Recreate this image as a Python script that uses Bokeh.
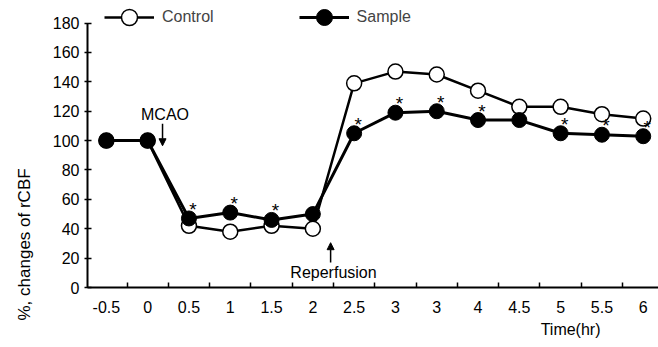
import math
from bokeh.plotting import figure
from bokeh.models import (Range1d, FixedTicker, Legend, LegendItem, Label, Arrow,
                          NormalHead, ColumnDataSource, Title)
from bokeh.core.properties import value
from bokeh.embed import file_html
from bokeh.resources import INLINE

# ---- data ----
time_labels = ["-0.5", "0", "0.5", "1", "1.5", "2", "2.5", "3", "3", "4", "4.5", "5", "5.5", "6"]
control = [100, 100, 42, 38, 42, 40, 139, 147, 145, 134, 123, 123, 118, 115]
sample = [100, 100, 47, 51, 46, 50, 105, 119, 120, 114, 114, 105, 104, 103]
significant = [0, 0, 1, 1, 1, 0, 1, 1, 1, 1, 0, 1, 1, 1]
y_ticks = [0, 20, 40, 60, 80, 100, 120, 140, 160, 180]

FONT = "Liberation Sans"
pos = list(range(len(time_labels)))

p = figure(width=658, height=346, output_backend="svg", toolbar_location=None,
           x_range=Range1d(-0.457, 13.37), y_range=Range1d(0, 195.4),
           min_border_left=83, min_border_right=0, min_border_top=0, min_border_bottom=59)
p.outline_line_color = None
p.grid.grid_line_color = None
p.background_fill_color = "white"

src = ColumnDataSource(dict(x=pos, control=control, sample=sample))

cl = p.line("x", "control", source=src, line_color="black", line_width=2.5)
cs = p.scatter("x", "control", source=src, size=15, fill_color="white",
               line_color="black", line_width=1.5)
sl = p.line("x", "sample", source=src, line_color="black", line_width=3)
ss = p.scatter("x", "sample", source=src, size=15, fill_color="black", line_color="black")

# significance asterisks
sig_src = ColumnDataSource(dict(
    x=[x for x, s in zip(pos, significant) if s],
    y=[v for v, s in zip(sample, significant) if s]))
p.text("x", "y", text=value("*"), source=sig_src, x_offset=4, y_offset=-9,
       text_font=value(FONT), text_font_size="19px", text_align="center",
       text_baseline="middle", text_color="black")

# axes
xa = p.xaxis[0]
xa.ticker = FixedTicker(ticks=pos, minor_ticks=[i + 0.5 for i in range(13)])
xa.major_label_overrides = {i: t for i, t in enumerate(time_labels)}
xa.major_tick_line_color = None
xa.minor_tick_in = 5
xa.minor_tick_out = 0
xa.minor_tick_line_width = 1.5
xa.axis_line_width = 2
xa.major_label_standoff = 7
xa.major_label_text_font = FONT
xa.major_label_text_font_size = "16px"
xa.major_label_text_color = "black"

ya = p.yaxis[0]
ya.ticker = FixedTicker(ticks=y_ticks)
ya.bounds = (0, 180)
ya.minor_tick_line_color = None
ya.major_tick_in = 4
ya.major_tick_out = 3
ya.major_tick_line_width = 1.5
ya.axis_line_width = 2
ya.major_label_standoff = 5
ya.major_label_text_font = FONT
ya.major_label_text_font_size = "16px"
ya.major_label_text_color = "black"

# axis titles
p.add_layout(Title(text="%, changes of rCBF", align="left", offset=-33,
                   vertical_align="top", standoff=28, text_font=FONT,
                   text_font_size="17px", text_font_style="normal",
                   text_color="black"), "left")
p.add_layout(Title(text="Time(hr)", align="right", offset=58, standoff=6,
                   text_font=FONT, text_font_size="16px", text_font_style="normal",
                   text_color="black"), "below")

# event annotations
p.add_layout(Label(x=1.42, y=118, text="MCAO", text_font=FONT, text_font_size="16px",
                   text_align="center", text_baseline="middle", text_color="black"))
p.add_layout(Arrow(end=NormalHead(size=7, fill_color="black", line_color="black"),
                   x_start=1.36, y_start=111.5, x_end=1.36, y_end=96.5,
                   line_width=1.5, line_color="black"))
p.add_layout(Label(x=5.5, y=10, text="Reperfusion", text_font=FONT, text_font_size="16px",
                   text_align="center", text_baseline="middle", text_color="black"))
p.add_layout(Arrow(end=NormalHead(size=7, fill_color="black", line_color="black"),
                   x_start=5.43, y_start=17, x_end=5.43, y_end=30.5,
                   line_width=1.5, line_color="black"))

legend = Legend(items=[LegendItem(label="Control", renderers=[cl, cs]),
                       LegendItem(label="Sample", renderers=[sl, ss])],
                orientation="horizontal", location=(17, 250), glyph_width=50,
                glyph_height=40, label_standoff=8, spacing=85, padding=0, margin=0,
                border_line_color=None, background_fill_alpha=0,
                label_text_font=FONT, label_text_font_size="16px")
p.add_layout(legend)

open("out.html", "w").write(file_html(p, INLINE))
